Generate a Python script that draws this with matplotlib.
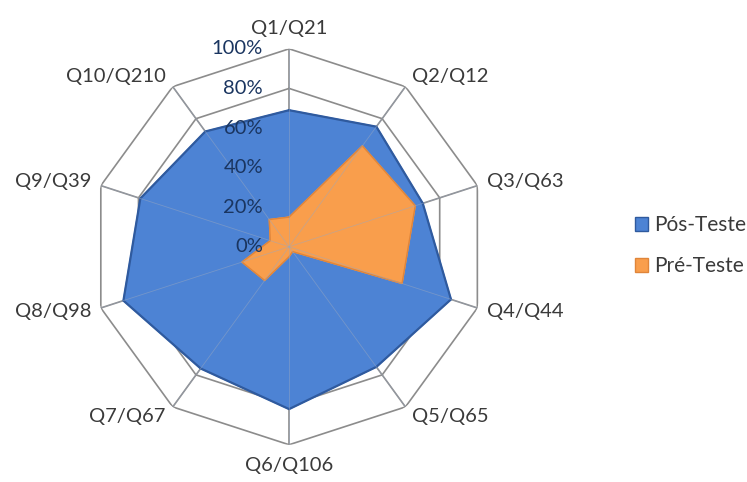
import numpy as np
import matplotlib
matplotlib.use("Agg")
import matplotlib.pyplot as plt
from matplotlib.patches import Patch
from matplotlib.transforms import offset_copy

plt.rcParams['font.family'] = ['Lato', 'DejaVu Sans']

categories = ['Q1/Q21', 'Q2/Q12', 'Q3/Q63', 'Q4/Q44', 'Q5/Q65',
              'Q6/Q106', 'Q7/Q67', 'Q8/Q98', 'Q9/Q39', 'Q10/Q210']
pos_teste = [69, 75, 71, 86, 75, 82, 76, 88, 79, 72]
pre_teste = [15, 63, 67, 60, 3, 5, 21, 25, 10, 17]
ring_values = [0, 20, 40, 60, 80, 100]
ring_labels = ['0%', '20%', '40%', '60%', '80%', '100%']

n = len(categories)
angles = np.linspace(0, 2 * np.pi, n, endpoint=False)
closed = np.append(angles, angles[0])

fig = plt.figure(figsize=(7.47, 4.82), dpi=100)
ax = fig.add_axes([0.122, 0.077, 0.530, 0.822], projection='polar')
ax.set_theta_zero_location('N')
ax.set_theta_direction(-1)
ax.set_ylim(0, 100)
ax.grid(False)
ax.spines['polar'].set_visible(False)
ax.set_xticks([])
ax.set_yticks([])

grid_col = '#8c8c8c'
for r in ring_values[1:]:
    ax.plot(closed, [r] * (n + 1), color=grid_col, lw=1.2, zorder=1)
for a in angles:
    ax.plot([a, a], [0, 100], color=grid_col, lw=1.2, zorder=1)

blue = '#4d83d4'
orange = '#f99e4c'
ax.fill(closed, pos_teste + pos_teste[:1], color=blue, zorder=2)
ax.plot(closed, pos_teste + pos_teste[:1], color='#2f5a9e', lw=1.6, zorder=3)
ax.fill(closed, pre_teste + pre_teste[:1], color=orange, zorder=4)
ax.plot(closed, pre_teste + pre_teste[:1], color='#e0853a', lw=1, zorder=5)
# spokes shown faintly through the fills
for a in angles:
    ax.plot([a, a], [0, 100], color='#9aa8c0', lw=0.6, alpha=0.5, zorder=6)

# category labels sit just outside each outer vertex
for a, lab in zip(angles, categories):
    s, c = np.sin(a), np.cos(a)
    if abs(s) < 0.1:
        ha, va = 'center', ('bottom' if c > 0 else 'top')
        off = (0, 12 * np.sign(c))
    else:
        ha, va = ('left' if s > 0 else 'right'), 'center'
        off = (10 * np.sign(s) * max(abs(s), 0.7), 12 * c)
    ax.annotate(lab, xy=(a, 100), xytext=off, textcoords='offset pixels',
                ha=ha, va=va, fontsize=14.5, color='#3a3a3a')

tr = offset_copy(ax.transData, fig=fig, x=-26, y=0, units='dots')
for r, lab in zip(ring_values, ring_labels):
    ax.text(0, r, lab, transform=tr, ha='right', va='center',
            fontsize=14.5, color='#1a3560', zorder=7)

handles = [Patch(facecolor=blue, edgecolor='#2f5a9e', label='Pós-Teste'),
           Patch(facecolor=orange, edgecolor='#e0853a', label='Pré-Teste')]
fig.legend(handles=handles, loc='center left', bbox_to_anchor=(0.825, 0.49),
           frameon=False, fontsize=15, handlelength=0.6, handleheight=0.6,
           handletextpad=0.3, labelspacing=1.0, labelcolor='#3a3a3a')

fig.savefig('out.png', dpi=100)
